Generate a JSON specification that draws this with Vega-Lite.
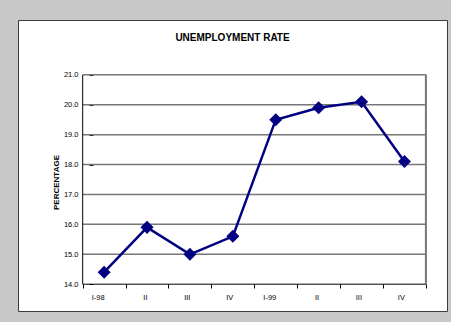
{
  "$schema": "https://vega.github.io/schema/vega-lite/v6.json",
  "width": 429,
  "height": 291,
  "autosize": {"type": "none"},
  "padding": {"left": 18, "top": 20, "right": 4, "bottom": 11},
  "background": "#c8c8c8",
  "config": {
    "view": {"fill": "white", "stroke": "#3a3a3a", "strokeWidth": 1},
    "font": "Liberation Sans"
  },
  "title": {
    "text": "UNEMPLOYMENT RATE",
    "font": "Liberation Sans",
    "fontSize": 10,
    "fontWeight": "bold",
    "color": "black",
    "anchor": "middle",
    "frame": "group",
    "baseline": "alphabetic",
    "offset": -31
  },
  "datasets": {
    "rate": [
      {"quarter": "I-98", "rate": 14.4},
      {"quarter": "II-98", "rate": 15.9},
      {"quarter": "III-98", "rate": 15.0},
      {"quarter": "IV-98", "rate": 15.6},
      {"quarter": "I-99", "rate": 19.5},
      {"quarter": "II-99", "rate": 19.9},
      {"quarter": "III-99", "rate": 20.1},
      {"quarter": "IV-99", "rate": 18.1}
    ],
    "gridlines": [
      {"level": 15}, {"level": 16}, {"level": 17}, {"level": 18},
      {"level": 19}, {"level": 20}, {"level": 21}
    ],
    "frame": [{"low": 14, "high": 21}]
  },
  "layer": [
    {
      "data": {"name": "gridlines"},
      "mark": {"type": "rule", "color": "#777777", "strokeWidth": 1.5},
      "encoding": {
        "y": {"field": "level", "type": "quantitative"},
        "x": {"datum": "I-98", "type": "nominal", "bandPosition": 0},
        "x2": {"datum": "IV-99", "bandPosition": 1}
      }
    },
    {
      "data": {"name": "frame"},
      "mark": {"type": "rule", "color": "#777777", "strokeWidth": 2},
      "encoding": {
        "x": {"datum": "IV-99", "type": "nominal", "bandPosition": 1},
        "y": {"field": "low", "type": "quantitative"},
        "y2": {"field": "high"}
      }
    },
    {
      "data": {"name": "frame"},
      "mark": {"type": "rule", "color": "black", "strokeWidth": 1},
      "encoding": {
        "x": {"datum": "I-98", "type": "nominal", "bandPosition": 0},
        "y": {"field": "low", "type": "quantitative"},
        "y2": {"field": "high"}
      }
    },
    {
      "data": {"name": "frame"},
      "mark": {"type": "rule", "color": "black", "strokeWidth": 1},
      "encoding": {
        "y": {"field": "low", "type": "quantitative"},
        "x": {"datum": "I-98", "type": "nominal", "bandPosition": 0},
        "x2": {"datum": "IV-99", "bandPosition": 1}
      }
    },
    {
      "data": {"name": "rate"},
      "mark": {"type": "line", "color": "#000080", "strokeWidth": 2.5},
      "encoding": {
        "x": {
          "field": "quarter",
          "type": "nominal",
          "scale": {
            "type": "band",
            "domain": ["I-98", "II-98", "III-98", "IV-98", "I-99", "II-99", "III-99", "IV-99"],
            "paddingInner": 0,
            "paddingOuter": 1.2075,
            "align": 0.754
          },
          "axis": {
            "title": null,
            "offset": -27,
            "domain": false,
            "grid": false,
            "tickBand": "extent",
            "tickColor": "black",
            "tickSize": 4,
            "tickWidth": 1,
            "labelAngle": 0,
            "labelFont": "Liberation Sans",
            "labelFontSize": 7.5,
            "labelColor": "black",
            "labelPadding": 9,
            "labelExpr": "isValid(datum.value) ? (datum.value == 'I-98' || datum.value == 'I-99' ? datum.value : split(datum.value, '-')[0]) : ''"
          }
        },
        "y": {
          "field": "rate",
          "type": "quantitative",
          "scale": {"domain": [13.104, 22.832], "nice": false, "zero": false},
          "axis": {
            "title": "PERCENTAGE",
            "titleFont": "Liberation Sans",
            "titleFontSize": 8,
            "titleFontWeight": "bold",
            "titleColor": "black",
            "titlePadding": 3,
            "titleY": 162,
            "offset": -75,
            "domain": false,
            "grid": false,
            "values": [14, 15, 16, 17, 18, 19, 20, 21],
            "format": ".1f",
            "tickColor": "black",
            "tickSize": 4,
            "tickWidth": 1,
            "labelFont": "Liberation Sans",
            "labelFontSize": 7.5,
            "labelColor": "black",
            "labelPadding": 11
          }
        }
      }
    },
    {
      "data": {"name": "rate"},
      "mark": {"type": "point", "shape": "diamond", "filled": true, "color": "#000080", "size": 170, "opacity": 1},
      "encoding": {
        "x": {"field": "quarter", "type": "nominal"},
        "y": {"field": "rate", "type": "quantitative"}
      }
    }
  ]
}
